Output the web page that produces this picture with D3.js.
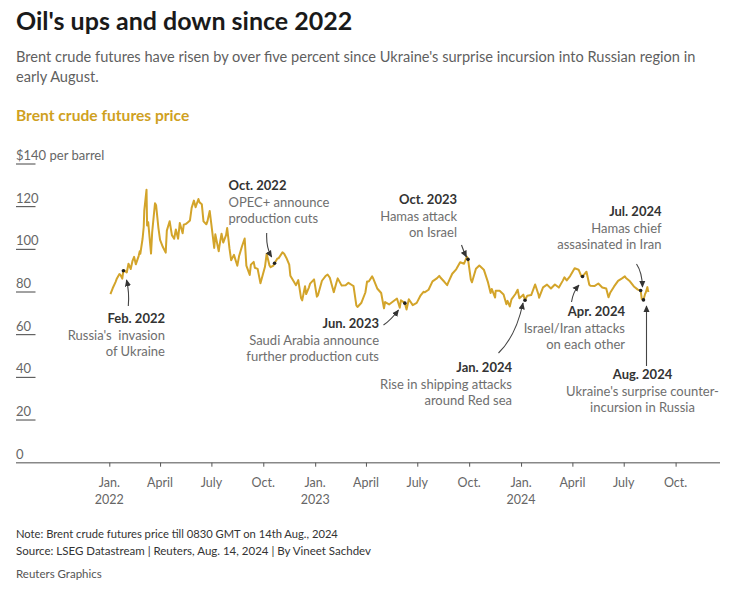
<!DOCTYPE html>
<html>
<head>
<meta charset="utf-8">
<script src="https://cdn.jsdelivr.net/npm/d3@7"></script>
<style>
  html, body { margin: 0; padding: 0; background: #fff; }
  svg { display: block; font-family: Lato, "Noto Sans", sans-serif; }
</style>
</head>
<body>
<svg id="chart" width="733" height="591"></svg>
<script>
// ---------------- DATA ----------------
const dates = [
  "2022-01-03","2022-01-07","2022-01-12","2022-01-14","2022-01-19","2022-01-21","2022-01-24","2022-01-26","2022-01-28",
  "2022-02-01","2022-02-04","2022-02-08","2022-02-11","2022-02-14","2022-02-17","2022-02-22","2022-02-24","2022-02-25",
  "2022-03-01","2022-03-03","2022-03-04","2022-03-08","2022-03-09","2022-03-11","2022-03-16","2022-03-18","2022-03-23","2022-03-25","2022-03-29",
  "2022-04-01","2022-04-06","2022-04-11","2022-04-13","2022-04-18","2022-04-22","2022-04-26","2022-04-29",
  "2022-05-03","2022-05-06","2022-05-11","2022-05-13","2022-05-17","2022-05-20","2022-05-24","2022-05-27","2022-05-31",
  "2022-06-03","2022-06-08","2022-06-10","2022-06-14","2022-06-17","2022-06-22","2022-06-24","2022-06-28",
  "2022-07-01","2022-07-06","2022-07-08","2022-07-14","2022-07-15","2022-07-19","2022-07-22","2022-07-27","2022-07-29",
  "2022-08-02","2022-08-05","2022-08-10","2022-08-16","2022-08-19","2022-08-24","2022-08-29",
  "2022-09-01","2022-09-07","2022-09-09","2022-09-14","2022-09-16","2022-09-21","2022-09-26","2022-09-30",
  "2022-10-04","2022-10-07","2022-10-12","2022-10-14","2022-10-19","2022-10-21","2022-10-26","2022-10-28",
  "2022-11-04","2022-11-07","2022-11-11","2022-11-16","2022-11-18","2022-11-23","2022-11-28",
  "2022-12-02","2022-12-07","2022-12-09","2022-12-14","2022-12-16","2022-12-21","2022-12-23","2022-12-30",
  "2023-01-04","2023-01-06","2023-01-13","2023-01-20","2023-01-23","2023-01-27",
  "2023-02-03","2023-02-08","2023-02-10","2023-02-17","2023-02-24",
  "2023-03-01","2023-03-07","2023-03-10","2023-03-15","2023-03-17","2023-03-24","2023-03-31",
  "2023-04-03","2023-04-06","2023-04-12","2023-04-14","2023-04-21","2023-04-28",
  "2023-05-03","2023-05-05","2023-05-12","2023-05-19","2023-05-26","2023-05-31",
  "2023-06-02","2023-06-09","2023-06-12","2023-06-16","2023-06-23","2023-06-30",
  "2023-07-07","2023-07-12","2023-07-14","2023-07-21","2023-07-28",
  "2023-08-04","2023-08-09","2023-08-11","2023-08-18","2023-08-23","2023-08-25",
  "2023-09-01","2023-09-08","2023-09-15","2023-09-22","2023-09-27","2023-09-29",
  "2023-10-04","2023-10-06","2023-10-13","2023-10-19","2023-10-20","2023-10-27",
  "2023-11-03","2023-11-08","2023-11-10","2023-11-16","2023-11-17","2023-11-24",
  "2023-12-01","2023-12-06","2023-12-08","2023-12-12","2023-12-15","2023-12-22","2023-12-26","2023-12-29",
  "2024-01-03","2024-01-05","2024-01-08","2024-01-12","2024-01-19","2024-01-26",
  "2024-02-01","2024-02-02","2024-02-09","2024-02-16","2024-02-23",
  "2024-03-01","2024-03-08","2024-03-15","2024-03-18","2024-03-22","2024-03-28",
  "2024-04-05","2024-04-12","2024-04-17","2024-04-19","2024-04-26",
  "2024-05-01","2024-05-03","2024-05-10","2024-05-17","2024-05-24","2024-05-31",
  "2024-06-04","2024-06-07","2024-06-14","2024-06-21","2024-06-28",
  "2024-07-03","2024-07-05","2024-07-12","2024-07-19","2024-07-26","2024-07-31",
  "2024-08-02","2024-08-05","2024-08-08","2024-08-09","2024-08-12","2024-08-13","2024-08-14"
];
const prices = [
  78.98,81.75,84.67,86.06,88.44,87.89,86.27,89.96,90.03,
  89.16,93.27,90.78,94.44,96.48,92.97,96.84,99.08,97.93,
  104.97,110.46,118.11,127.98,111.14,112.67,98.02,107.93,121.60,120.65,110.23,
  104.39,101.07,98.48,108.78,113.16,106.65,104.99,109.34,
  104.97,112.39,107.51,111.55,111.93,112.55,113.56,119.43,122.84,
  119.72,123.58,122.01,121.17,113.12,111.74,113.12,117.98,
  111.63,100.69,107.02,99.10,101.16,107.35,103.20,106.62,110.01,
  100.54,94.92,97.40,92.34,96.72,101.22,105.09,
  92.36,88.00,92.84,94.10,91.35,90.83,84.06,87.96,
  91.80,97.92,92.45,91.63,92.41,93.50,95.69,95.77,
  98.57,97.92,95.99,92.86,87.62,85.41,83.19,
  85.57,77.17,76.10,82.70,79.04,82.20,83.92,85.91,
  77.84,78.57,85.28,87.63,88.19,86.66,
  79.94,84.69,86.39,83.00,83.16,
  84.31,83.29,82.78,73.69,72.97,74.99,79.77,
  84.93,84.94,87.33,86.31,81.66,79.54,
  72.33,75.30,74.17,75.58,76.95,72.66,
  76.13,74.79,71.84,76.61,73.85,74.90,
  78.47,80.11,79.87,81.07,84.99,
  86.24,87.55,86.81,84.80,83.21,84.48,
  88.55,90.65,93.93,93.27,96.55,95.31,
  85.81,84.58,90.89,92.38,92.16,90.48,
  84.89,79.54,81.43,77.42,80.61,80.58,
  78.88,74.30,75.84,73.24,76.55,79.07,81.07,77.04,
  78.25,78.76,76.12,78.29,78.56,83.55,
  78.70,77.33,82.19,83.47,81.62,
  83.55,82.08,85.34,86.89,85.43,87.48,
  91.17,90.45,87.29,87.29,89.50,
  83.44,82.96,82.79,83.98,82.12,81.62,
  77.52,79.62,82.62,85.24,86.41,
  87.34,86.54,85.03,82.63,81.13,80.72,
  76.81,76.30,79.16,79.66,82.30,80.69,80.00
];
const yTicks = [0, 20, 40, 60, 80, 100, 120, 140];
const xTickDates = ["2022-01-01","2022-04-01","2022-07-01","2022-10-01","2023-01-01","2023-04-01","2023-07-01","2023-10-01","2024-01-01","2024-04-01","2024-07-01","2024-10-01"];
const xTickMonths = ["Jan.","April","July","Oct.","Jan.","April","July","Oct.","Jan.","April","July","Oct."];
const xTickYears  = ["2022","","","","2023","","","","2024","","",""];

const eventDates  = ["2022-01-26","2022-10-21","2023-06-09","2023-09-29","2024-01-08","2024-04-19","2024-07-31","2024-08-05"];
const eventTitles = ["Feb. 2022","Oct. 2022","Jun. 2023","Oct. 2023","Jan. 2024","Apr. 2024","Jul. 2024","Aug. 2024"];
const eventTexts  = [
  ["Russia's  invasion","of Ukraine"],
  ["OPEC+ announce","production cuts"],
  ["Saudi Arabia announce","further production cuts"],
  ["Hamas attack","on Israel"],
  ["Rise in shipping attacks","around Red sea"],
  ["Israel/Iran attacks","on each other"],
  ["Hamas chief","assasinated in Iran"],
  ["Ukraine's surprise counter-","incursion in Russia"]
];

// ---------------- LAYOUT ----------------
const svg = d3.select("#chart");
const parse = d3.timeParse("%Y-%m-%d");
const series = dates.map((d, i) => ({ date: parse(d), value: prices[i] }));

const x = d3.scaleTime().domain([parse("2022-01-01"), parse("2025-01-01")]).range([109.3, 727.5]);
const y = d3.scaleLinear().domain([0, 140]).range([462.7, 164]);

const gold = "#d3a42a";

// Titles
svg.append("text").attr("x", 16).attr("y", 30).attr("font-size", 25).attr("font-weight", 700)
  .attr("fill", "#1a1a1a").text("Oil's ups and down since 2022");
svg.append("text").attr("x", 16).attr("y", 62).attr("font-size", 14.6).attr("fill", "#5f5f5f")
  .text("Brent crude futures have risen by over five percent since Ukraine's surprise incursion into Russian region in");
svg.append("text").attr("x", 16).attr("y", 82).attr("font-size", 14.6).attr("fill", "#5f5f5f")
  .text("early August.");
svg.append("text").attr("x", 16).attr("y", 121).attr("font-size", 15.6).attr("font-weight", 700)
  .attr("fill", "#cfa11f").text("Brent crude futures price");

// Y axis ticks
const yg = svg.append("g");
yTicks.forEach(v => {
  if (v > 0) {
    yg.append("line").attr("x1", 16).attr("x2", 35.5).attr("y1", y(v)).attr("y2", y(v))
      .attr("stroke", "#444").attr("stroke-width", 1);
  }
  yg.append("text").attr("x", 16).attr("y", y(v) - 4).attr("font-size", 13).attr("fill", "#666")
    .text(v === 140 ? "$140 per barrel" : String(v));
});

// X axis baseline
svg.append("line").attr("x1", 16).attr("x2", 720).attr("y1", y(0)).attr("y2", y(0))
  .attr("stroke", "#888").attr("stroke-width", 1.5);

const xAxis = d3.axisBottom(x)
  .tickValues(xTickDates.map(parse))
  .tickSize(4)
  .tickFormat("");
const xg = svg.append("g").attr("transform", `translate(0,${y(0)})`).call(xAxis);
xg.select(".domain").remove();
xg.selectAll(".tick line").attr("stroke", "#555");
xTickDates.forEach((d, i) => {
  const px = x(parse(d));
  svg.append("text").attr("x", px).attr("y", 487).attr("text-anchor", "middle")
    .attr("font-size", 12.5).attr("fill", "#666").text(xTickMonths[i]);
  if (xTickYears[i]) {
    svg.append("text").attr("x", px).attr("y", 504).attr("text-anchor", "middle")
      .attr("font-size", 12.5).attr("fill", "#666").text(xTickYears[i]);
  }
});

// Line
const line = d3.line().x(d => x(d.date)).y(d => y(d.value)).curve(d3.curveLinear);
svg.append("path").datum(series).attr("d", line).attr("fill", "none")
  .attr("stroke", gold).attr("stroke-width", 2).attr("stroke-linejoin", "round");

// Arrow marker
svg.append("defs").append("marker").attr("id", "arrow")
  .attr("viewBox", "0 0 10 10").attr("refX", 9).attr("refY", 5)
  .attr("markerWidth", 7).attr("markerHeight", 7).attr("markerUnits", "userSpaceOnUse")
  .attr("orient", "auto")
  .append("path").attr("d", "M0,0.5 L10,5 L0,9.5 Z").attr("fill", "#333");

// Annotation layout: text anchor point, alignment, arrow tail/control/tip
const annLayout = [
  { tx: 165, ty: 323, anchor: "end",    arrow: [[128.3,306],[129.5,292],[126.5,280]] },
  { tx: 228.5, ty: 190, anchor: "start", arrow: [[266.7,233],[266,248],[271.7,257]] },
  { tx: 379, ty: 328, anchor: "end",    arrow: [[383.5,325],[391,320],[398.5,310]] },
  { tx: 457, ty: 204, anchor: "end",    arrow: [[461.5,245],[463.5,251],[466.5,257]] },
  { tx: 512, ty: 372, anchor: "end",    arrow: [[498.5,353],[516,336],[523,303]] },
  { tx: 625, ty: 316, anchor: "end",    arrow: [[571.5,302],[573,292],[579,285]] },
  { tx: 661.5, ty: 216, anchor: "end",  arrow: [[636.5,264],[642,272],[642.5,287]] },
  { tx: 642.5, ty: 379, anchor: "middle", arrow: [[646.5,366],[646.5,336],[646.5,306]] }
];

const ag = svg.append("g");
eventDates.forEach((d, i) => {
  const L = annLayout[i];
  const a = L.arrow;
  ag.append("path")
    .attr("d", `M${a[0][0]},${a[0][1]} Q${a[1][0]},${a[1][1]} ${a[2][0]},${a[2][1]}`)
    .attr("fill", "none").attr("stroke", "#444").attr("stroke-width", 1.1)
    .attr("marker-end", "url(#arrow)");
  // event dot on the line
  const pt = series.find(s => +s.date === +parse(d));
  ag.append("circle").attr("cx", x(pt.date)).attr("cy", y(pt.value)).attr("r", 1.8).attr("fill", "#222");
  ag.append("text").attr("x", L.tx).attr("y", L.ty).attr("text-anchor", L.anchor)
    .attr("font-size", 13).attr("font-weight", 700).attr("fill", "#333").text(eventTitles[i]);
  eventTexts[i].forEach((t, j) => {
    ag.append("text").attr("x", L.tx).attr("y", L.ty + 16.5 * (j + 1)).attr("text-anchor", L.anchor)
      .attr("font-size", 13).attr("fill", "#6e6e6e").style("white-space", "pre").text(t);
  });
});

// Footer
svg.append("text").attr("x", 16).attr("y", 538).attr("font-size", 11.2).attr("fill", "#333")
  .text("Note: Brent crude futures price till 0830 GMT on 14th Aug., 2024");
svg.append("text").attr("x", 16).attr("y", 555).attr("font-size", 11.5).attr("fill", "#333")
  .text("Source: LSEG Datastream | Reuters, Aug. 14, 2024 | By Vineet Sachdev");
svg.append("text").attr("x", 16).attr("y", 578).attr("font-size", 11.5).attr("fill", "#555")
  .text("Reuters Graphics");
</script>
</body>
</html>
